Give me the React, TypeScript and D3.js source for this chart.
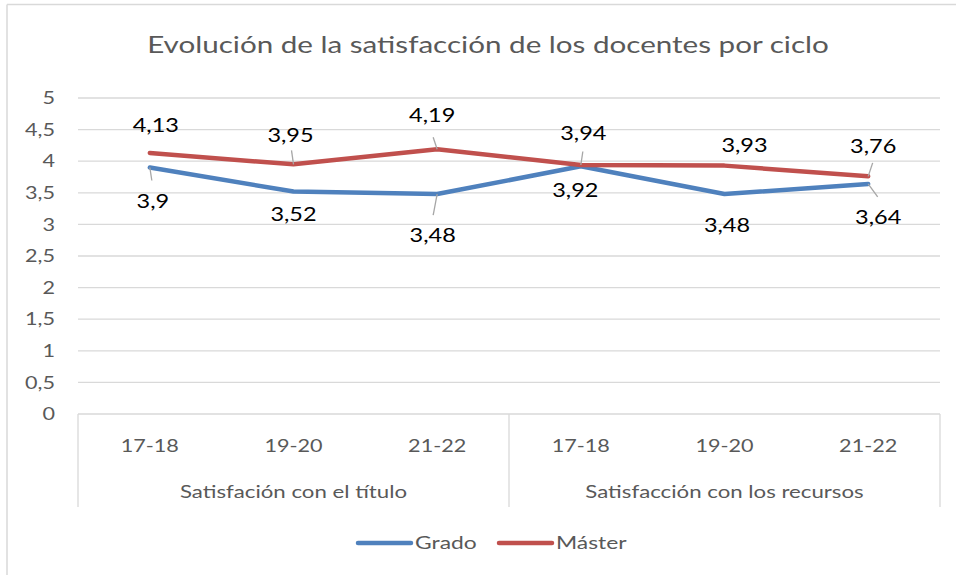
import React from "react";
import * as d3 from "d3";

const cycles = ["17-18", "19-20", "21-22", "17-18", "19-20", "21-22"];
const groups = ["Satisfación con el título", "Satisfacción con los recursos"];
const grado = [3.9, 3.52, 3.48, 3.92, 3.48, 3.64];
const master = [4.13, 3.95, 4.19, 3.94, 3.93, 3.76];
const yTicks = [0, 0.5, 1, 1.5, 2, 2.5, 3, 3.5, 4, 4.5, 5];
const seriesNames = ["Grado", "Máster"];
const seriesColors = ["#4f81bd", "#c0504d"];

// label placement styles: label centre offset [dx, dy] from point, optional leader end offset
type LabelStyle = { dx: number; dy: number; leader?: [number, number] };
const gradoLabelStyle: LabelStyle[] = [
  { dx: 3, dy: 33.5, leader: [2, 13] },
  { dx: 0, dy: 22.5 },
  { dx: -4.5, dy: 41, leader: [-4, 21] },
  { dx: -5.5, dy: 24 },
  { dx: 2.5, dy: 31.5 },
  { dx: 10, dy: 33, leader: [9.5, 13] },
];
const masterLabelStyle: LabelStyle[] = [
  { dx: 6, dy: -28 },
  { dx: -3, dy: -29, leader: [-2, -14] },
  { dx: -5, dy: -34, leader: [-4, -12] },
  { dx: 2.5, dy: -32, leader: [2, -13.5] },
  { dx: 20, dy: -20 },
  { dx: 5, dy: -30, leader: [4.5, -13.5] },
];

const W = 956, H = 575;
const font = "Lato, 'Open Sans', sans-serif";
const SX = 1.27;

function T(props: { x: number; y: number; size: number; fill: string; anchor?: string; children: React.ReactNode }) {
  const { x, y, size, fill, anchor = "middle", children } = props;
  // y is the visual centre of cap-height glyphs
  const base = y + size * 0.36;
  return (
    <text transform={`translate(${x},${base}) scale(${SX},1)`} x={0} y={0} textAnchor={anchor}
      fontSize={size} fill={fill}>
      {children}
    </text>
  );
}

export default function App() {
  const left = 78, right = 940, top = 98, bottom = 414;
  const x = d3.scaleBand<number>().domain(d3.range(cycles.length)).range([left, right]);
  const y = d3.scaleLinear().domain([0, 5]).range([bottom, top]);
  const cx = (i: number) => (x(i) as number) + x.bandwidth() / 2;
  const line = d3.line<number>().x((_, i) => cx(i)).y((d) => y(d));
  const groupSize = cycles.length / groups.length;
  const fmt = (v: number) => String(v).replace(".", ",");

  const labels = (vals: number[], styles: LabelStyle[], key: string) =>
    vals.map((v, i) => {
      const px = cx(i), py = y(v);
      const s = styles[i];
      return (
        <g key={key + i}>
          {s.leader && (
            <line x1={px} y1={py} x2={px + s.leader[0]} y2={py + s.leader[1]} stroke="#a6a6a6" strokeWidth={1.3} />
          )}
          <T x={px + s.dx} y={py + s.dy} size={18.5} fill="#000">{fmt(v)}</T>
        </g>
      );
    });

  return (
    <svg width={W} height={H} style={{ position: "absolute", left: 0, top: 0, fontFamily: font }}>
      <rect x={0} y={0} width={W} height={H} fill="#fff" />
      <line x1={7} x2={W} y1={4.5} y2={4.5} stroke="#d9d9d9" strokeWidth={1.5} />
      <line x1={7} x2={7} y1={4.5} y2={H} stroke="#d9d9d9" strokeWidth={1.5} />
      <T x={488} y={45} size={23.3} fill="#595959">Evolución de la satisfacción de los docentes por ciclo</T>
      {yTicks.map((t) => (
        <g key={"y" + t}>
          {t > 0 && <line x1={left} x2={right} y1={y(t)} y2={y(t)} stroke="#d9d9d9" strokeWidth={1.3} />}
          <T x={55} y={y(t)} size={17} fill="#595959" anchor="end">{fmt(t)}</T>
        </g>
      ))}
      <line x1={left} x2={right} y1={bottom} y2={bottom} stroke="#d9d9d9" strokeWidth={1.3} />
      {d3.range(groups.length + 1).map((g) => {
        const xx = g === groups.length ? right : (x(g * groupSize) as number);
        return <line key={"sep" + g} x1={xx} x2={xx} y1={bottom} y2={507} stroke="#d9d9d9" strokeWidth={1.3} />;
      })}
      {cycles.map((c, i) => (
        <T key={"c" + i} x={cx(i)} y={446} size={17} fill="#595959">{c}</T>
      ))}
      {groups.map((g, gi) => {
        const x0 = x(gi * groupSize) as number;
        const x1 = (x((gi + 1) * groupSize - 1) as number) + x.bandwidth();
        return <T key={"g" + gi} x={(x0 + x1) / 2} y={491.5} size={17.5} fill="#595959">{g}</T>;
      })}
      <path d={line(grado) as string} fill="none" stroke={seriesColors[0]} strokeWidth={4.5} strokeLinejoin="round" strokeLinecap="round" />
      <path d={line(master) as string} fill="none" stroke={seriesColors[1]} strokeWidth={4.5} strokeLinejoin="round" strokeLinecap="round" />
      {labels(grado, gradoLabelStyle, "gl")}
      {labels(master, masterLabelStyle, "ml")}
      {seriesNames.map((n, i) => {
        const lx = [358, 499][i];
        return (
          <g key={"leg" + i}>
            <line x1={lx} x2={lx + 53} y1={543} y2={543} stroke={seriesColors[i]} strokeWidth={4.5} strokeLinecap="round" />
            <T x={lx + 57} y={543} size={18} fill="#595959" anchor="start">{n}</T>
          </g>
        );
      })}
    </svg>
  );
}
